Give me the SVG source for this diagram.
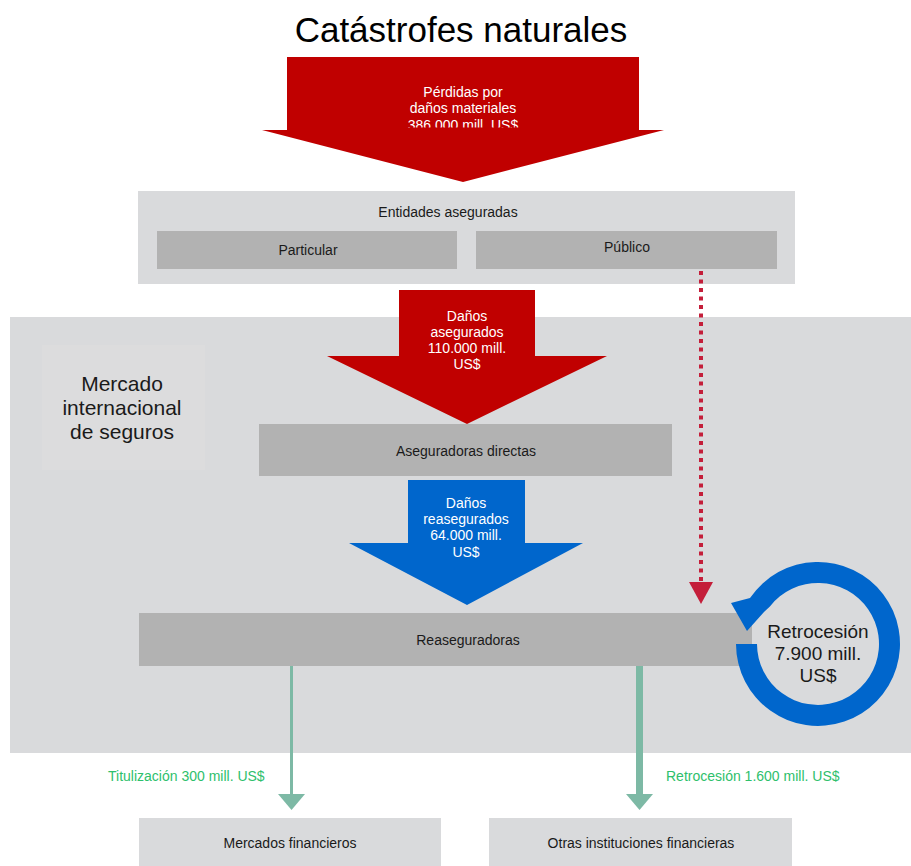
<svg xmlns="http://www.w3.org/2000/svg" width="911" height="866" viewBox="0 0 911 866">
<style>
text{font-family:"Liberation Sans",Arial,sans-serif;}
.lbl{font-size:14px;fill:#1a1a1a;text-anchor:middle;}
.wt{font-size:14px;fill:#ffffff;text-anchor:middle;}
.lt{fill:#d9dadc;}
.dk{fill:#b2b2b2;}
.red{fill:#c00000;}
.blue{fill:#0066cc;}
.grn{font-size:14px;fill:#2ec06c;}
.gl{stroke:#7db9a5;fill:none;}
.gh{fill:#7db9a5;}
</style>
<defs>
<clipPath id="clipTop"><rect x="287" y="57" width="352" height="70.5"/></clipPath>
</defs>
<rect x="0" y="0" width="911" height="866" fill="#ffffff"/>

<text x="461" y="42" style="font-size:35px;fill:#000;text-anchor:middle;">Catástrofes naturales</text>

<g id="entidades">
<rect class="lt" x="138" y="191" width="657" height="93"/>
<text class="lbl" x="448" y="217">Entidades aseguradas</text>
</g>
<g id="particular">
<rect class="dk" x="157" y="231" width="300" height="38"/>
<text class="lbl" x="308" y="255">Particular</text>
</g>
<g id="publico">
<rect class="dk" x="476" y="231" width="301" height="38"/>
<text class="lbl" x="627" y="252">Público</text>
</g>

<g id="mercado">
<rect class="lt" x="10" y="317" width="901" height="436"/>
<rect x="42" y="345" width="163" height="125" fill="#dcdcdd"/>
<text x="122" y="391" style="font-size:21px;fill:#1a1a1a;text-anchor:middle;">Mercado</text>
<text x="122" y="415" style="font-size:21px;fill:#1a1a1a;text-anchor:middle;">internacional</text>
<text x="122" y="439" style="font-size:21px;fill:#1a1a1a;text-anchor:middle;">de seguros</text>
</g>

<g id="perdidas">
<polygon class="red" points="287,57 639,57 639,130 664,130 463,182 262,130 287,130"/>
<g clip-path="url(#clipTop)">
<text class="wt" x="463" y="97">Pérdidas por</text>
<text class="wt" x="463" y="113">daños materiales</text>
<text class="wt" x="463" y="130">386.000 mill. US$</text>
</g>
</g>

<g id="asegurados">
<polygon class="red" points="399,290 535,290 535,356 607,356 467,424 327,356 399,356"/>
<text class="wt" x="467" y="321">Daños</text>
<text class="wt" x="467" y="337">asegurados</text>
<text class="wt" x="467" y="353">110.000 mill.</text>
<text class="wt" x="467" y="369">US$</text>
</g>

<g id="aseguradoras">
<rect class="dk" x="259" y="424" width="413" height="52"/>
<text class="lbl" x="466" y="456">Aseguradoras directas</text>
</g>

<g id="reasegurados">
<polygon class="blue" points="408,480 525,480 525,543 583,543 467,605 349,543 408,543"/>
<text class="wt" x="466" y="508">Daños</text>
<text class="wt" x="466" y="524">reasegurados</text>
<text class="wt" x="466" y="540">64.000 mill.</text>
<text class="wt" x="466" y="557">US$</text>
</g>

<g id="reaseguradoras">
<rect class="dk" x="139" y="613" width="613" height="53"/>
<text class="lbl" x="468" y="645">Reaseguradoras</text>
</g>

<g id="retrocesion">
<path class="blue" d="M736,644 A82,82 0 1 0 750,598.1 L731,603 L747,631 L764,612 L769.9,606.4 A61,61 0 1 1 757,644 Z"/>
<text x="818" y="638" style="font-size:19px;fill:#1a1a1a;text-anchor:middle;">Retrocesión</text>
<text x="818" y="660" style="font-size:19px;fill:#1a1a1a;text-anchor:middle;">7.900 mill.</text>
<text x="818" y="682" style="font-size:19px;fill:#1a1a1a;text-anchor:middle;">US$</text>
</g>

<g id="mercados-financieros">
<rect class="lt" x="139" y="818" width="302" height="48"/>
<text class="lbl" x="290" y="848">Mercados financieros</text>
</g>
<g id="otras-instituciones">
<rect class="lt" x="489" y="818" width="303" height="48"/>
<text class="lbl" x="641" y="848">Otras instituciones financieras</text>
</g>

<g id="connectors">
<line x1="701" y1="271" x2="701" y2="584" stroke="#c41e3a" stroke-width="4" stroke-dasharray="4 4.5"/>
<polygon points="689,582 713,582 701,604" fill="#c41e3a"/>
<line class="gl" x1="291.5" y1="666" x2="291.5" y2="796" stroke-width="3"/>
<polygon class="gh" points="278,794 305,794 291.5,810"/>
<line class="gl" x1="639.5" y1="666" x2="639.5" y2="796" stroke-width="7"/>
<polygon class="gh" points="626,794 653,794 639.5,810"/>
<text class="grn" x="108" y="781">Titulización 300 mill. US$</text>
<text class="grn" x="666" y="781">Retrocesión 1.600 mill. US$</text>
</g>
</svg>
